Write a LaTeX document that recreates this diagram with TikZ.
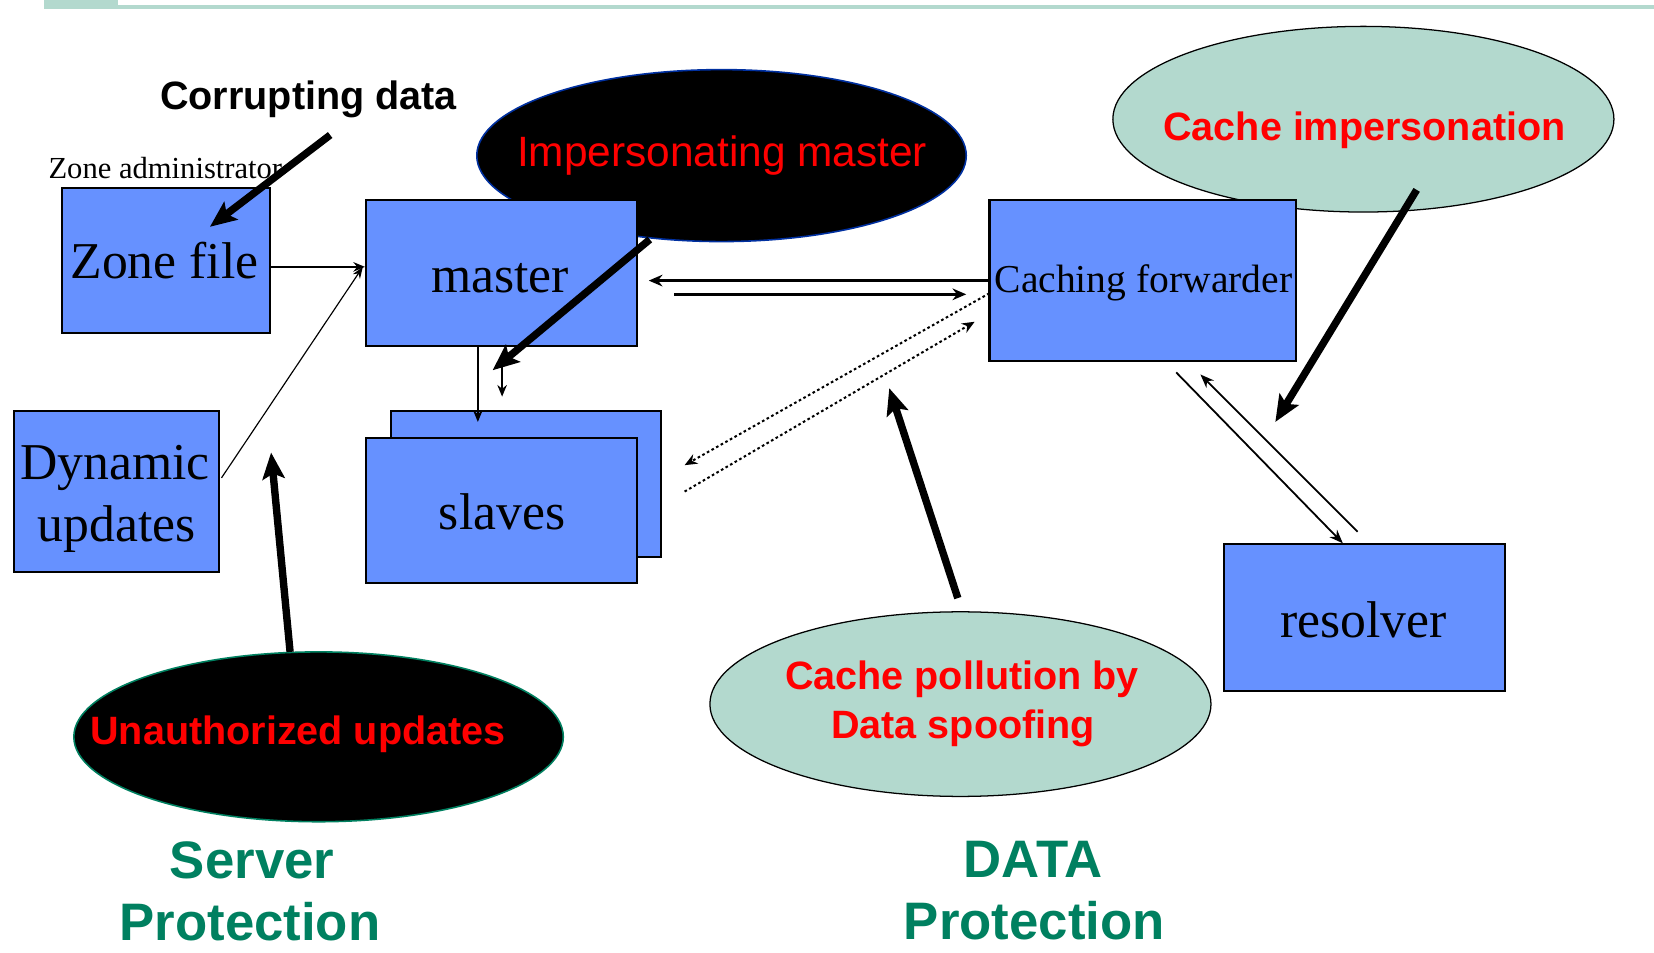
\documentclass[tikz,border=0pt]{standalone}
\usepackage{fontspec}
\setmainfont{Liberation Serif}
\newfontfamily\arial{Liberation Sans}
\usetikzlibrary{shapes.geometric,arrows.meta,calc}
\definecolor{boxblue}{RGB}{102,145,255}
\definecolor{mint}{RGB}{179,217,206}
\definecolor{protgreen}{RGB}{0,128,96}
\definecolor{rimnavy}{RGB}{0,48,160}
\definecolor{alarm}{RGB}{255,0,0}
\begin{document}
\begin{tikzpicture}[x=1pt,y=-1pt,
  every node/.style={outer sep=0pt,inner sep=0pt},
  hostbox/.style={rectangle,draw=black,line width=2pt,fill=boxblue},
  hosttext/.style={anchor=base,font=\fontsize{49}{58}\selectfont},
  threatdark/.style={ellipse,fill=black,line width=1.5pt},
  threatlight/.style={ellipse,fill=mint,draw=black,line width=1.2pt},
  threattext/.style={anchor=base,text=alarm,font=\arial\bfseries\fontsize{37.5}{46}\selectfont},
  headline/.style={anchor=base,text=protgreen,font=\arial\bfseries\fontsize{50}{60}\selectfont},
  plainarrow/.style={-{Stealth[length=11pt,width=9pt]},line width=2pt},
  hairarrow/.style={-{Stealth[length=11pt,width=8pt]},line width=1.1pt},
  midarrow/.style={-{Stealth[length=13pt,width=11pt]},line width=3pt},
  slimarrow/.style={-{Stealth[length=13pt,width=10pt]},line width=1.7pt},
  dotarrow/.style={-{Stealth[length=12pt,width=10pt]},line width=1.9pt,dash pattern=on 2.5pt off 2.5pt},
  heavyarrow/.style={-{Stealth[length=25pt,width=21pt,inset=5pt]},line width=7pt}
]
\useasboundingbox (0,0) rectangle (1568,903);
\fill[white] (0,0) rectangle (1568,903);

% title rule
\fill[mint] (41.7,0) rectangle (111.5,8.5);
\fill[mint] (111.5,4.7) rectangle (1568,8.5);

% attack bubbles
\node[threatdark,draw=rimnavy,minimum width=464pt,minimum height=163pt] (imp) at (684,147.5) {};
\node[threatlight,minimum width=475pt,minimum height=176pt] (cimp) at (1292.5,113) {};
\node[threatdark,draw=protgreen,minimum width=464pt,minimum height=161pt] (unauth) at (302,698.5) {};
\node[threatlight,minimum width=475pt,minimum height=175pt] (cpol) at (910.5,667.5) {};

% DNS components
\node[hostbox,minimum width=197pt,minimum height=138pt] (zone) at (157.5,247) {};
\node[hostbox,minimum width=257pt,minimum height=138pt] (master) at (475.5,259) {};
\node[hostbox,minimum width=195pt,minimum height=152pt] (dyn) at (110.5,466) {};
\node[hostbox,minimum width=256pt,minimum height=138pt] (slavesback) at (499,459) {};
\node[hostbox,minimum width=257pt,minimum height=138pt] (slaves) at (475.5,484) {};
\node[hostbox,minimum width=291pt,minimum height=152pt] (cf) at (1083.5,266) {};
\node[hostbox,minimum width=267pt,minimum height=139pt] (resolver) at (1293.5,585.5) {};

% component labels
\node[hosttext] (zonetxt) at (156,264) {Zone file};
\node[hosttext] (mastertxt) at (474,277) {master};
\node[hosttext] (dyntxt1) at (109,455) {Dynamic};
\node[hosttext] (dyntxt2) at (110.5,513) {updates};
\node[hosttext] (slavestxt) at (476,502) {slaves};
\node[hosttext] (resolvertxt) at (1292.5,604) {resolver};
\node[anchor=base,font=\fontsize{37.5}{44}\selectfont] (cftxt) at (1084,277) {Caching forwarder};

% threat labels
\node[anchor=base,font=\arial\bfseries\fontsize{37.5}{44}\selectfont] (corrupt) at (292.5,104) {Corrupting data};
\node[anchor=base west,font=\fontsize{29}{34}\selectfont] (zoneadmin) at (46,169) {Zone administrator};
\node[anchor=base,text=alarm,font=\arial\fontsize{40.2}{48}\selectfont] (imptxt) at (684.5,158) {Impersonating master};
\node[threattext] (cimptxt) at (1293.5,133.5) {Cache impersonation};
\node[threattext] (unauthtxt) at (282.5,706) {Unauthorized updates};
\node[threattext] (cpoltxt1) at (912,654) {Cache pollution by};
\node[threattext] (cpoltxt2) at (913,700) {Data spoofing};

% section headings
\node[headline] (srv1) at (239,833) {Server};
\node[headline] (srv2) at (237,892) {Protection};
\node[headline] (dat1) at (979.5,832) {DATA};
\node[headline] (dat2) at (980.5,891) {Protection};

% data flows
\draw[plainarrow] ($(zone.east)+(0,6)$) -- ($(master.west)+(-1,-6)$);
\draw[hairarrow] ($(dyn.east)+(2,-13)$) -- ($(master.west)+(-3,-6)$);
\draw[plainarrow] ($(master.south)+(-22.5,0)$) -- ($(slavesback.north)+(-46,10)$);
\draw[midarrow] (cf.west) -- ($(master.east)+(11,7)$);
\draw[midarrow] ($(master.east)+(35,20)$) -- ($(cf.west)+(-22,13)$);
\draw[dotarrow] ($(cf.west)+(0,12)$) -- ($(slaves.east)+(45,-43)$);
\draw[dotarrow] ($(slaves.east)+(45,-18)$) -- ($(cf.west)+(-14,39)$);
\draw[slimarrow] ($(cf.south)+(31.5,11)$) -- ($(resolver.north)+(-20.5,-1)$);
\draw[slimarrow] ($(resolver.north)+(-6.5,-12)$) -- ($(cf.south)+(54.5,13)$);

% attack arrows
\coordinate (cdtail) at (313,128);
\coordinate (imptip) at (467,351);
\coordinate (uatip) at (257,429);
\coordinate (cptip) at (843,368);
\coordinate (citip) at (1209,400);
\draw[heavyarrow] (cdtail) -- ($(zone.north)+(41.5,37)$);
\draw[heavyarrow] ($(imp.south)+(-68,-2)$) -- (imptip);
\draw[plainarrow] ($(imptip)+(9,-7)$) -- ($(imptip)+(9,25)$);
\draw[heavyarrow] ($(unauth.north)+(-27,0)$) -- (uatip);
\draw[heavyarrow] ($(cpol.north)+(-2.5,-13)$) -- (cptip);
\draw[heavyarrow] ($(cimp.south)+(50.5,-21)$) -- (citip);
\end{tikzpicture}
\end{document}
